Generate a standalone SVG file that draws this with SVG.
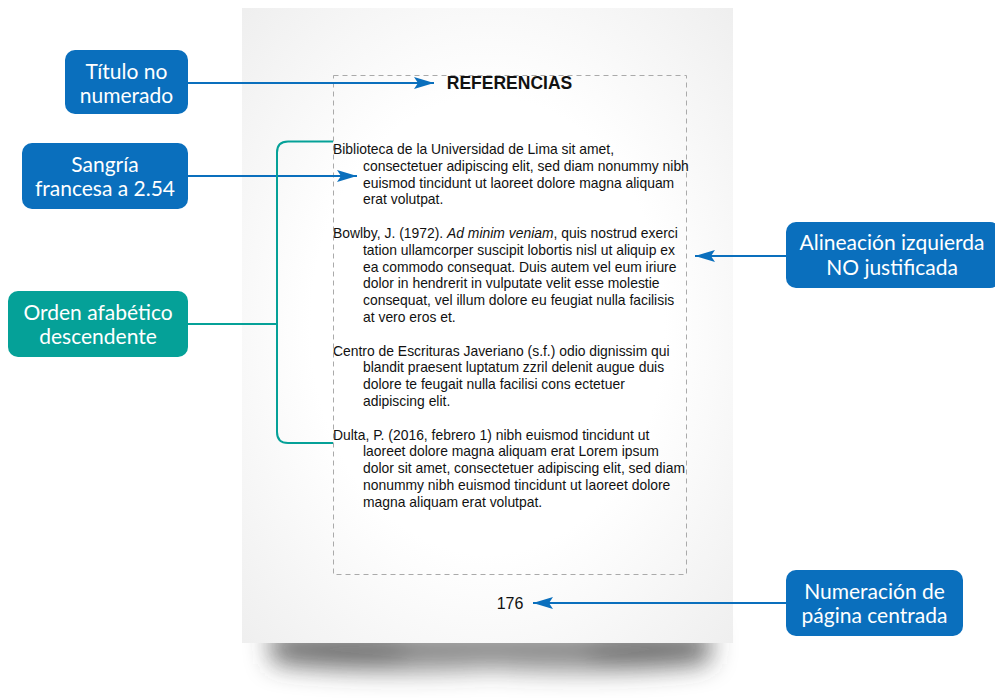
<svg xmlns="http://www.w3.org/2000/svg" width="995" height="698" viewBox="0 0 995 698">
  <defs>
    <radialGradient id="pageFill" cx="50%" cy="50%" r="72%">
      <stop offset="0.5" stop-color="#ffffff"/>
      <stop offset="1" stop-color="#eeeeee"/>
    </radialGradient>
    <filter id="softShadow" x="-20%" y="-150%" width="140%" height="400%">
      <feGaussianBlur stdDeviation="12"/>
    </filter>
    <marker id="arrowBlue" viewBox="0 0 20 12" refX="20" refY="6" markerWidth="20" markerHeight="12" markerUnits="userSpaceOnUse" orient="auto">
      <path d="M0,0 L20,6 L0,12 L4,6 Z" fill="#0a6fbd"/>
    </marker>
    <style>
      .callout-blue { fill: #0a6fbd; }
      .callout-teal { fill: #05a198; }
      .label { font-family: Lato, "Open Sans", sans-serif; font-size: 21px; fill: #ffffff; text-anchor: middle; }
      .ref { font-family: "Liberation Sans", Arial, sans-serif; font-size: 13.9px; fill: #111111; }
      .arrow { stroke: #0a6fbd; stroke-width: 2; fill: none; marker-end: url(#arrowBlue); }
      .bracket { stroke: #05a198; stroke-width: 2; fill: none; }
      .margin { stroke: #aaaaaa; stroke-width: 1; stroke-dasharray: 5 4; fill: none; }
    </style>
  </defs>

  <!-- page with a curled drop shadow underneath -->
  <g id="page">
    <g filter="url(#softShadow)">
      <path d="M268,630 L712,630 L708,664 Q610,676 490,668 Q370,676 272,664 Z" fill="#444444" opacity="0.6"/>
      <ellipse cx="340" cy="652" rx="70" ry="12" fill="#333333" opacity="0.35"/>
      <ellipse cx="650" cy="652" rx="65" ry="12" fill="#333333" opacity="0.35"/>
    </g>
    <rect x="242" y="8" width="491" height="635" fill="url(#pageFill)"/>
    <rect x="333.5" y="75.5" width="353" height="499" class="margin"/>
  </g>

  <!-- page content -->
  <g id="content">
    <text x="509.5" y="89" font-family="Liberation Sans, Arial, sans-serif" font-size="17.5" font-weight="bold" text-anchor="middle" fill="#111">REFERENCIAS</text>

    <text class="ref" x="333" y="154">Biblioteca de la Universidad de Lima sit amet,</text>
    <text class="ref" x="363" y="170.8">consectetuer adipiscing elit, sed diam nonummy nibh</text>
    <text class="ref" x="363" y="187.6">euismod tincidunt ut laoreet dolore magna aliquam</text>
    <text class="ref" x="363" y="204.4">erat volutpat.</text>

    <text class="ref" x="333" y="238">Bowlby, J. (1972). <tspan font-style="italic">Ad minim veniam</tspan>, quis nostrud exerci</text>
    <text class="ref" x="363" y="254.8">tation ullamcorper suscipit lobortis nisl ut aliquip ex</text>
    <text class="ref" x="363" y="271.6">ea commodo consequat. Duis autem vel eum iriure</text>
    <text class="ref" x="363" y="288.4">dolor in hendrerit in vulputate velit esse molestie</text>
    <text class="ref" x="363" y="305.2">consequat, vel illum dolore eu feugiat nulla facilisis</text>
    <text class="ref" x="363" y="322">at vero eros et.</text>

    <text class="ref" x="333" y="355.6">Centro de Escrituras Javeriano (s.f.) odio dignissim qui</text>
    <text class="ref" x="363" y="372.4">blandit praesent luptatum zzril delenit augue duis</text>
    <text class="ref" x="363" y="389.2">dolore te feugait nulla facilisi cons ectetuer</text>
    <text class="ref" x="363" y="406">adipiscing elit.</text>

    <text class="ref" x="333" y="439.6">Dulta, P. (2016, febrero 1) nibh euismod tincidunt ut</text>
    <text class="ref" x="363" y="456.4">laoreet dolore magna aliquam erat Lorem ipsum</text>
    <text class="ref" x="363" y="473.2">dolor sit amet, consectetuer adipiscing elit, sed diam</text>
    <text class="ref" x="363" y="490">nonummy nibh euismod tincidunt ut laoreet dolore</text>
    <text class="ref" x="363" y="506.8">magna aliquam erat volutpat.</text>

    <text x="510" y="609" font-family="Liberation Sans, Arial, sans-serif" font-size="16" text-anchor="middle" fill="#111">176</text>
  </g>

  <!-- connectors -->
  <g id="connectors">
    <line x1="188" y1="83" x2="434" y2="83" class="arrow"/>
    <line x1="188" y1="176" x2="357" y2="176" class="arrow"/>
    <path d="M333,141.5 H288 Q277,141.5 277,152.5 V432 Q277,443 288,443 H333" class="bracket"/>
    <line x1="188" y1="324" x2="277" y2="324" class="bracket"/>
    <line x1="786" y1="256" x2="695" y2="256" class="arrow"/>
    <line x1="786" y1="603" x2="533" y2="603" class="arrow"/>
  </g>

  <!-- callouts -->
  <g id="titulo">
    <rect x="65" y="50" width="123" height="64" rx="10" class="callout-blue"/>
    <text class="label" x="126.5" y="79">Título no</text>
    <text class="label" x="126.5" y="103">numerado</text>
  </g>
  <g id="sangria">
    <rect x="22" y="143" width="166" height="66" rx="10" class="callout-blue"/>
    <text class="label" x="105" y="172">Sangría</text>
    <text class="label" x="105" y="196">francesa a 2.54</text>
  </g>
  <g id="orden">
    <rect x="8" y="291" width="180" height="66" rx="10" class="callout-teal"/>
    <text class="label" x="98" y="320">Orden afabético</text>
    <text class="label" x="98" y="344">descendente</text>
  </g>
  <g id="alineacion">
    <rect x="786" y="222" width="214" height="66" rx="10" class="callout-blue"/>
    <text class="label" x="892" y="250">Alineación izquierda</text>
    <text class="label" x="892" y="275">NO justificada</text>
  </g>
  <g id="numeracion">
    <rect x="786" y="570" width="177" height="66" rx="10" class="callout-blue"/>
    <text class="label" x="874.5" y="599">Numeración de</text>
    <text class="label" x="874.5" y="623">página centrada</text>
  </g>
</svg>
